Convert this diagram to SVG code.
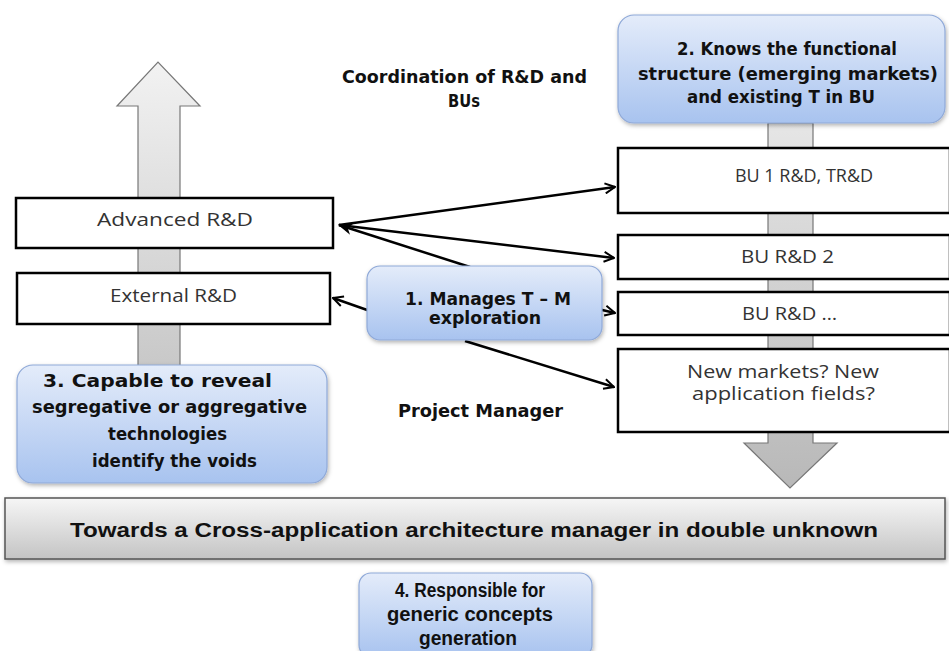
<svg xmlns="http://www.w3.org/2000/svg" width="949" height="651" viewBox="0 0 949 651">
<style>
.box{fill:#fff;stroke:#000;stroke-width:2.5}
.lt{font-family:"Open Sans","DejaVu Sans",sans-serif;font-weight:normal;font-size:18px;fill:#333;text-anchor:middle}
.bt{font-family:"DejaVu Sans","Liberation Sans",sans-serif;font-weight:bold;font-size:18px;fill:#111;text-anchor:middle}
.ct{font-family:"Liberation Sans",Arial,sans-serif;font-weight:bold;fill:#111;text-anchor:middle}
.blue{fill:url(#gb);stroke:#8fa9d8;stroke-width:1.2}
.con{stroke:#000;stroke-width:2.5;fill:none}
</style>
<defs>
<linearGradient id="gb" x1="0" y1="0" x2="0" y2="1"><stop offset="0" stop-color="#e4ecfa"/><stop offset="1" stop-color="#a8c3ef"/></linearGradient>
<linearGradient id="gup" x1="0" y1="0" x2="0" y2="1"><stop offset="0" stop-color="#f2f2f2"/><stop offset="1" stop-color="#c8c8c8"/></linearGradient>
<linearGradient id="gdn" x1="0" y1="0" x2="0" y2="1"><stop offset="0" stop-color="#e6e6e6"/><stop offset="1" stop-color="#b8b8b8"/></linearGradient>
<linearGradient id="gban" x1="0" y1="0" x2="0" y2="1"><stop offset="0" stop-color="#f6f6f6"/><stop offset="1" stop-color="#c4c4c4"/></linearGradient>
<filter id="sh" x="-10%" y="-10%" width="120%" height="130%"><feDropShadow dx="1" dy="2" stdDeviation="2" flood-color="#000" flood-opacity="0.3"/></filter>
<marker id="ah" viewBox="0 0 10 10" refX="9" refY="5" markerWidth="5" markerHeight="5" orient="auto-start-reverse" markerUnits="strokeWidth"><path d="M1,1 L9,5 L1,9" fill="none" stroke="#000" stroke-width="1.6"/></marker>
<marker id="ahf" viewBox="0 0 10 10" refX="9" refY="5" markerWidth="6" markerHeight="6" orient="auto-start-reverse" markerUnits="strokeWidth"><path d="M0,1 L10,5 L0,9 L3,5 Z" fill="#000"/></marker>
</defs>

<g id="up-arrow">
<path d="M138,368 L138,106 L117,106 L158,62 L200,106 L180,106 L180,368 Z" fill="url(#gup)" stroke="#777" stroke-width="1.2"/>
</g>
<g id="down-arrow">
<path d="M768,123 L768,443 L744,443 L790,488 L837,443 L813,443 L813,123 Z" fill="url(#gdn)" stroke="#777" stroke-width="1.2"/>
</g>

<g id="banner">
<rect x="5" y="498" width="940" height="61" fill="url(#gban)" stroke="#555" stroke-width="1.5" filter="url(#sh)"/>
<text class="ct" x="474" y="537" font-size="19.5" textLength="808" lengthAdjust="spacingAndGlyphs">Towards a Cross-application architecture manager in double unknown</text>
</g>

<g id="advanced-rd">
<rect class="box" x="16" y="198" width="317" height="50"/>
<text class="lt" x="175" y="226" textLength="156" lengthAdjust="spacingAndGlyphs">Advanced R&amp;D</text>
</g>
<g id="external-rd">
<rect class="box" x="17" y="273" width="313" height="51"/>
<text class="lt" x="173.5" y="302" textLength="127" lengthAdjust="spacingAndGlyphs">External R&amp;D</text>
</g>

<g id="bu1">
<rect class="box" x="618" y="148" width="332" height="65"/>
<text class="lt" x="804" y="182">BU 1 R&amp;D, TR&amp;D</text>
</g>
<g id="bu2">
<rect class="box" x="618" y="235" width="332" height="44"/>
<text class="lt" x="787.5" y="263" textLength="93" lengthAdjust="spacingAndGlyphs">BU R&amp;D 2</text>
</g>
<g id="bu3">
<rect class="box" x="618" y="292" width="332" height="43"/>
<text class="lt" x="789.5" y="320" textLength="95" lengthAdjust="spacingAndGlyphs">BU R&amp;D …</text>
</g>
<g id="new-markets">
<rect class="box" x="618" y="349" width="332" height="83"/>
<text class="lt" x="783" y="378" textLength="192" lengthAdjust="spacingAndGlyphs">New markets? New</text>
<text class="lt" x="783.5" y="400" textLength="183" lengthAdjust="spacingAndGlyphs">application fields?</text>
</g>

<g id="connectors">
<line class="con" x1="339" y1="225" x2="470" y2="267" marker-start="url(#ahf)"/>
<line class="con" x1="339" y1="225" x2="615" y2="187" marker-end="url(#ah)"/>
<line class="con" x1="339" y1="225" x2="614" y2="258" marker-end="url(#ah)"/>
<line class="con" x1="465" y1="341" x2="614" y2="387" marker-end="url(#ah)"/>
<line class="con" x1="370" y1="311" x2="333" y2="298" marker-end="url(#ah)"/>
<line class="con" x1="598" y1="309" x2="615" y2="313" marker-end="url(#ah)"/>
</g>

<g id="label-coordination">
<text class="bt" x="464.5" y="83" textLength="245" lengthAdjust="spacingAndGlyphs">Coordination of R&amp;D and</text>
<text class="bt" x="464" y="107" textLength="32" lengthAdjust="spacingAndGlyphs">BUs</text>
</g>
<g id="label-pm">
<text class="bt" x="480.5" y="417" textLength="165" lengthAdjust="spacingAndGlyphs">Project Manager</text>
</g>

<g id="box1">
<rect class="blue" x="367" y="266" width="235" height="74" rx="13" filter="url(#sh)"/>
<text class="bt" x="488" y="305" font-size="19" textLength="166" lengthAdjust="spacingAndGlyphs">1. Manages T – M</text>
<text class="bt" x="485" y="324" font-size="19" textLength="112" lengthAdjust="spacingAndGlyphs">exploration</text>
</g>
<g id="box2">
<rect class="blue" x="618" y="15" width="327" height="108" rx="16" filter="url(#sh)"/>
<text class="bt" x="787" y="55" textLength="220" lengthAdjust="spacingAndGlyphs">2. Knows the functional</text>
<text class="bt" x="788" y="80" textLength="300" lengthAdjust="spacingAndGlyphs">structure (emerging markets)</text>
<text class="bt" x="781" y="103" textLength="188" lengthAdjust="spacingAndGlyphs">and existing T in BU</text>
</g>
<g id="box3">
<rect class="blue" x="17" y="365" width="310" height="118" rx="16" filter="url(#sh)"/>
<text class="bt" x="157.5" y="387" textLength="229" lengthAdjust="spacingAndGlyphs">3. Capable to reveal</text>
<text class="bt" x="169.5" y="413" textLength="275" lengthAdjust="spacingAndGlyphs">segregative or aggregative</text>
<text class="bt" x="167.5" y="440" textLength="119" lengthAdjust="spacingAndGlyphs">technologies</text>
<text class="bt" x="174.5" y="467" textLength="165" lengthAdjust="spacingAndGlyphs">identify the voids</text>
</g>
<g id="box4">
<rect class="blue" x="359" y="573" width="233" height="84" rx="12" filter="url(#sh)"/>
<text class="ct" x="470" y="597" font-size="19.5" textLength="150" lengthAdjust="spacingAndGlyphs">4. Responsible for</text>
<text class="ct" x="470" y="621" font-size="19.5" textLength="166" lengthAdjust="spacingAndGlyphs">generic concepts</text>
<text class="ct" x="468" y="645" font-size="19.5" textLength="98" lengthAdjust="spacingAndGlyphs">generation</text>
</g>
</svg>
